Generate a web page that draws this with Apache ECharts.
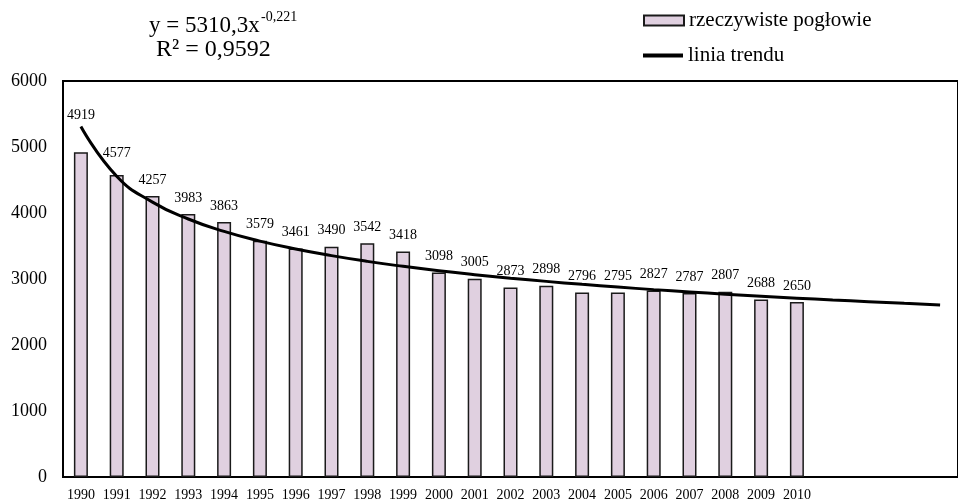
<!DOCTYPE html>
<html>
<head>
<meta charset="UTF-8">
<script src="https://cdn.jsdelivr.net/npm/echarts@6/dist/echarts.min.js"></script>
<style>
  html, body { margin: 0; padding: 0; background: #fff; }
  #chart { width: 958px; height: 502px; }
</style>
</head>
<body>
<div id="chart"></div>
<script>
  // years shown on the axis; the last four slots stay empty (trend runs on)
  var years = ['1990', '1991', '1992', '1993', '1994', '1995', '1996', '1997', '1998', '1999', '2000',
    '2001', '2002', '2003', '2004', '2005', '2006', '2007', '2008', '2009', '2010', '', '', '', ''];
  var herd = [4919, 4577, 4257, 3983, 3863, 3579, 3461, 3490, 3542, 3418, 3098,
    3005, 2873, 2898, 2796, 2795, 2827, 2787, 2807, 2688, 2650];
  // trend curve (y = 5310,3x^-0,221)
  var trend = [5310, 4556, 4165, 3909, 3721, 3574, 3454, 3354, 3267, 3192, 3125, 3066, 3012,
    2964, 2919, 2878, 2839, 2804, 2770, 2739, 2710, 2682, 2656, 2631, 2607];
  var yTicks = [0, 1000, 2000, 3000, 4000, 5000, 6000];

  var serif = '"Liberation Serif", "Times New Roman", serif';
  // a few labels were nudged up in the original to clear the trend line
  var labelLift = { 0: -21, 1: -6 };

  var barData = herd.map(function (v, i) {
    var item = { value: v };
    if (labelLift[i] !== undefined) item.label = { offset: [0, labelLift[i]] };
    return item;
  });

  var chart = echarts.init(document.getElementById('chart'));
  chart.setOption({
    animation: false,
    backgroundColor: '#fff',
    grid: {
      left: 63, top: 81, bottom: 25, width: 904,
      show: true, borderColor: '#000', borderWidth: 2, backgroundColor: 'transparent'
    },
    legend: [
      {
        data: [{ name: 'rzeczywiste pogłowie', icon: 'rect' }],
        left: 643, top: 10, padding: 0,
        itemWidth: 40, itemHeight: 10, itemGap: 4,
        textStyle: { fontFamily: serif, fontSize: 21, color: '#000', lineHeight: 20 }
      },
      {
        data: [{ name: 'linia trendu', icon: 'rect' }],
        left: 643, top: 45, padding: 0,
        itemWidth: 40, itemHeight: 4,
        textStyle: { fontFamily: serif, fontSize: 21, color: '#000', lineHeight: 20 }
      }
    ],
    xAxis: {
      type: 'category',
      data: years,
      axisLine: { lineStyle: { color: '#000', width: 2 } },
      axisTick: { show: false },
      axisLabel: { interval: 0, margin: 11, fontFamily: serif, fontSize: 14, color: '#000' }
    },
    yAxis: {
      type: 'value',
      min: yTicks[0], max: yTicks[yTicks.length - 1], interval: 1000,
      splitLine: { show: false },
      axisLine: { show: true, lineStyle: { color: '#000', width: 2 } },
      axisTick: { show: false },
      axisLabel: {
        margin: 16, fontFamily: serif, fontSize: 18, color: '#000',
        formatter: function (v) { return String(v); }
      }
    },
    series: [
      {
        name: 'rzeczywiste pogłowie',
        type: 'bar',
        data: barData,
        barWidth: 14,
        itemStyle: { color: '#E0D0E0', borderColor: '#1a1a1a', borderWidth: 1.5 },
        label: { show: true, position: 'top', distance: 9, fontFamily: serif, fontSize: 14, color: '#000' }
      },
      {
        name: 'linia trendu',
        type: 'line',
        data: trend,
        smooth: true,
        showSymbol: false,
        symbol: 'none',
        z: 5,
        itemStyle: { color: '#000' },
        lineStyle: { color: '#000', width: 3 }
      }
    ],
    graphic: [
      {
        type: 'text', left: 149, top: 14,
        style: { text: 'y = 5310,3x', fontFamily: serif, fontSize: 23, fill: '#000' }
      },
      {
        type: 'text', left: 261, top: 10,
        style: { text: '-0,221', fontFamily: serif, fontSize: 14, fill: '#000' }
      },
      {
        type: 'text', left: 156, top: 38,
        style: { text: 'R² = 0,9592', fontFamily: serif, fontSize: 24, fill: '#000' }
      }
    ]
  });
</script>
</body>
</html>
